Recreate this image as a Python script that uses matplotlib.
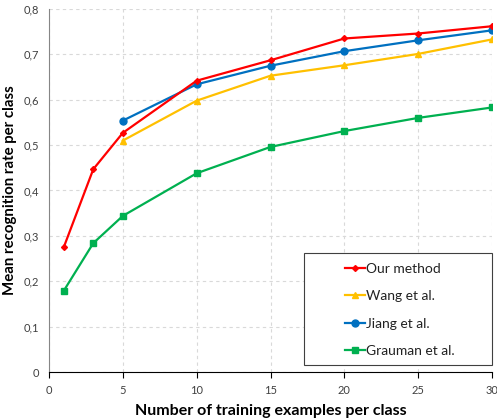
import matplotlib.pyplot as plt
from matplotlib.patches import Rectangle
from matplotlib.ticker import FuncFormatter

plt.rcParams['font.family'] = ['Lato', 'DejaVu Sans']

x_all = [1, 3, 5, 10, 15, 20, 25, 30]
x_from5 = [5, 10, 15, 20, 25, 30]

ours = [0.275, 0.447, 0.527, 0.642, 0.687, 0.735, 0.746, 0.762]
wang = [0.510, 0.598, 0.653, 0.676, 0.701, 0.733]
jiang = [0.554, 0.634, 0.675, 0.707, 0.731, 0.753]
grauman = [0.179, 0.284, 0.344, 0.438, 0.496, 0.531, 0.560, 0.583]

fig = plt.figure(figsize=(4.97, 4.19), dpi=100)
ax = fig.add_axes([49/497, 1 - 372/419, 443/497, 363/419])

ax.plot(x_all, ours, color='#FF0000', marker='D', markersize=3, lw=1.6, label='Our method', zorder=5)
ax.plot(x_from5, wang, color='#FFC000', marker='^', markersize=5, lw=1.6, label='Wang et al.')
ax.plot(x_from5, jiang, color='#0070C0', marker='o', markersize=5, lw=1.6, label='Jiang et al.')
ax.plot(x_all, grauman, color='#00B050', marker='s', markersize=5, lw=1.6, label='Grauman et al.')

ax.set_xlim(0, 30)
ax.set_ylim(0, 0.8)
ax.set_xticks([0, 5, 10, 15, 20, 25, 30])
ax.set_yticks([0, 0.1, 0.2, 0.3, 0.4, 0.5, 0.6, 0.7, 0.8])
ax.yaxis.set_major_formatter(FuncFormatter(lambda v, p: '0' if v == 0 else ('%.1f' % v).replace('.', ',')))
ax.grid(True, color='#D9D9D9', linestyle=(0, (3, 3)), lw=0.8)
ax.set_axisbelow(True)

for s in ['top', 'right']:
    ax.spines[s].set_visible(False)
ax.spines['left'].set_color('#868686')
ax.spines['bottom'].set_color('black')
ax.tick_params(axis='y', length=0, labelsize=8, colors='#404040', pad=7)
ax.tick_params(axis='x', length=4, direction='out', labelsize=8, colors='#404040', pad=5)
ax.tick_params(axis='x', color='black')

ax.set_xlabel('Number of training examples per class', fontsize=11.5, fontweight='bold', labelpad=6)
ax.set_ylabel('Mean recognition rate per class', fontsize=10.8, fontweight='bold', labelpad=5)

# legend box (Excel style: wide frame, entries pushed to the right)
ax.add_patch(Rectangle((0.5756, 0.0193), 0.4244, 0.3085, transform=ax.transAxes,
                       facecolor='white', edgecolor='#404040', lw=0.8, zorder=6, clip_on=False))
leg = ax.legend(loc='center left', bbox_to_anchor=(0.668, 0.1708), fontsize=10, frameon=False,
                labelspacing=1.12, handlelength=1.45, handletextpad=0.05, borderpad=0.0,
                borderaxespad=0.0)
leg.set_zorder(7)
for t in leg.get_texts():
    t.set_color('#222222')

fig.savefig('out.png', dpi=100)
